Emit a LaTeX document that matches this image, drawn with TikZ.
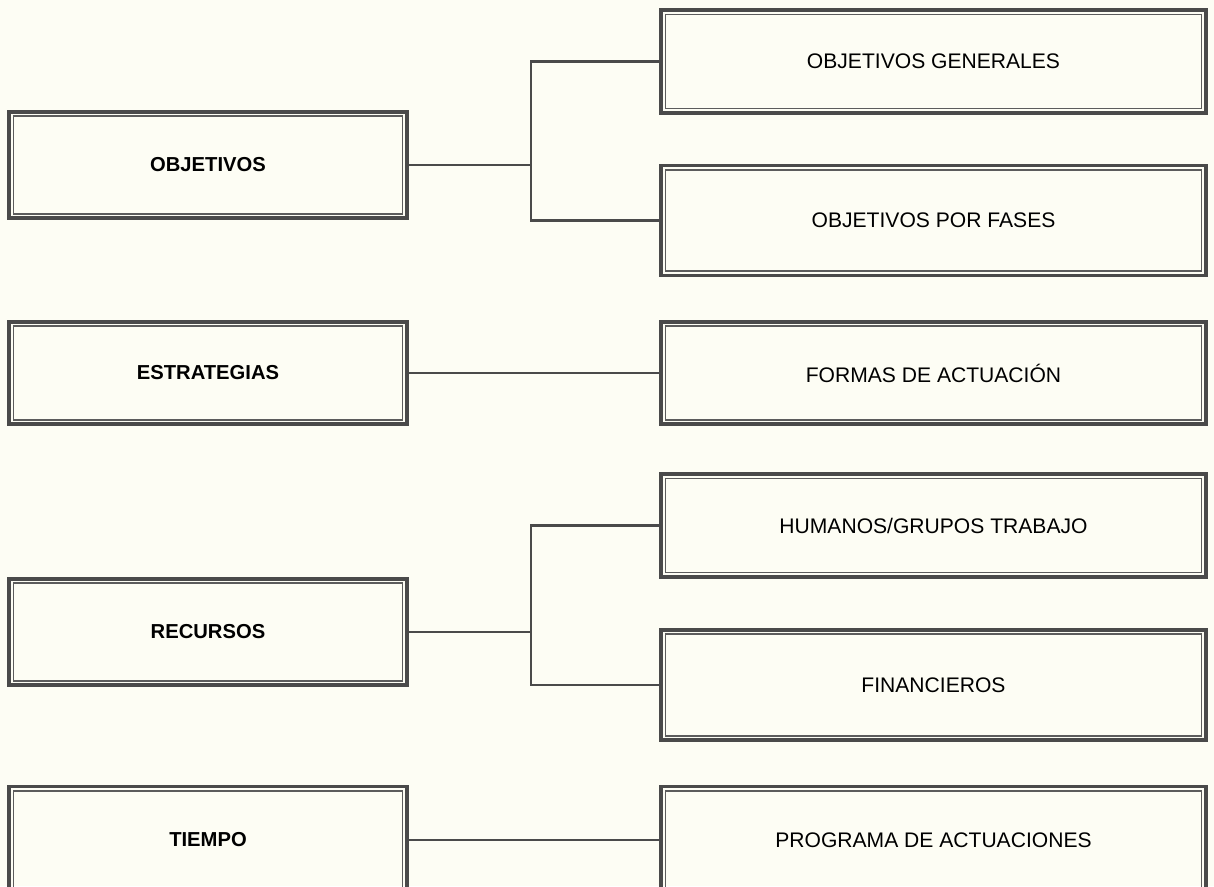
\documentclass[tikz,border=0pt]{standalone}
\usepackage{fontspec}
\setmainfont{Liberation Sans}
\usepackage{tikz}
\usetikzlibrary{positioning,calc}
\definecolor{ink}{HTML}{4A4A4A}
\definecolor{paper}{HTML}{FDFDF4}
\tikzset{
    panel/.style={
        draw=ink,
        line width=2.2pt,
        inner sep=2pt,
        minimum height=2.05cm
    },
    leftpanel/.style={
        panel,
        minimum width=7.95cm,
        font=\fontsize{11.5}{14}\selectfont\bfseries
    },
    rightpanel/.style={
        panel,
        minimum width=10.89cm,
        font=\fontsize{12}{14}\selectfont
    },
    innerline/.style={
        draw=ink!90,
        line width=1pt
    },
    link/.style={
        draw=ink,
        line width=1.3pt
    }
}

\begin{document}
\begin{tikzpicture}[x=0.02cm,y=-0.02cm]

    % Fondo
    \useasboundingbox (0,0) rectangle (1214,886);
    \clip (0,0) rectangle (1214,886);
    \fill[paper] (0,0) rectangle (1214,886);

    % Bloques de la izquierda
    \node[leftpanel,minimum height=2.12cm] (objetivos) at (208,165) {OBJETIVOS};
    \node[leftpanel] (estrategias) at (208,373) {ESTRATEGIAS};
    \node[leftpanel,minimum height=2.12cm] (recursos) at (208,632) {RECURSOS};
    \node[leftpanel,minimum height=2.14cm] (tiempo) at (208,840) {TIEMPO};

    % Bloques de la derecha
    \node[rightpanel] (objgen) at (933.5,61.5) {OBJETIVOS GENERALES};
    \node[rightpanel,minimum height=2.2cm] (objfases) at (933.5,220.5) {OBJETIVOS POR FASES};
    \node[rightpanel] (formas) at (933.5,373) {FORMAS DE ACTUACIÓN};
    \node[rightpanel] (humanos) at (933.5,525.5) {HUMANOS/GRUPOS TRABAJO};
    \node[rightpanel,minimum height=2.2cm] (financieros) at (933.5,685) {FINANCIEROS};
    \node[rightpanel,minimum height=2.14cm] (programa) at (933.5,840) {PROGRAMA DE ACTUACIONES};

    % Marco interior
    \foreach \n in {objetivos,estrategias,recursos,tiempo,
                    objgen,objfases,formas,humanos,financieros,programa}
        \draw[innerline]
            ([shift={(3.5pt,-3.5pt)}]\n.north west)
            rectangle ([shift={(-3.5pt,3.5pt)}]\n.south east);

    % Objetivos
    \coordinate (objfork) at (531,165);
    \draw[link] (objetivos.east) -- (objfork);
    \draw[link] (objgen.west) -| (objfork) |- (objfases.west);

    % Estrategias
    \draw[link] (estrategias.east) -- (formas.west);

    % Recursos
    \coordinate (recfork) at (531,632);
    \draw[link] (recursos.east) -- (recfork);
    \draw[link] (humanos.west) -| (recfork) |- (financieros.west);

    % Tiempo
    \draw[link] (tiempo.east) -- (programa.west);

\end{tikzpicture}
\end{document}
